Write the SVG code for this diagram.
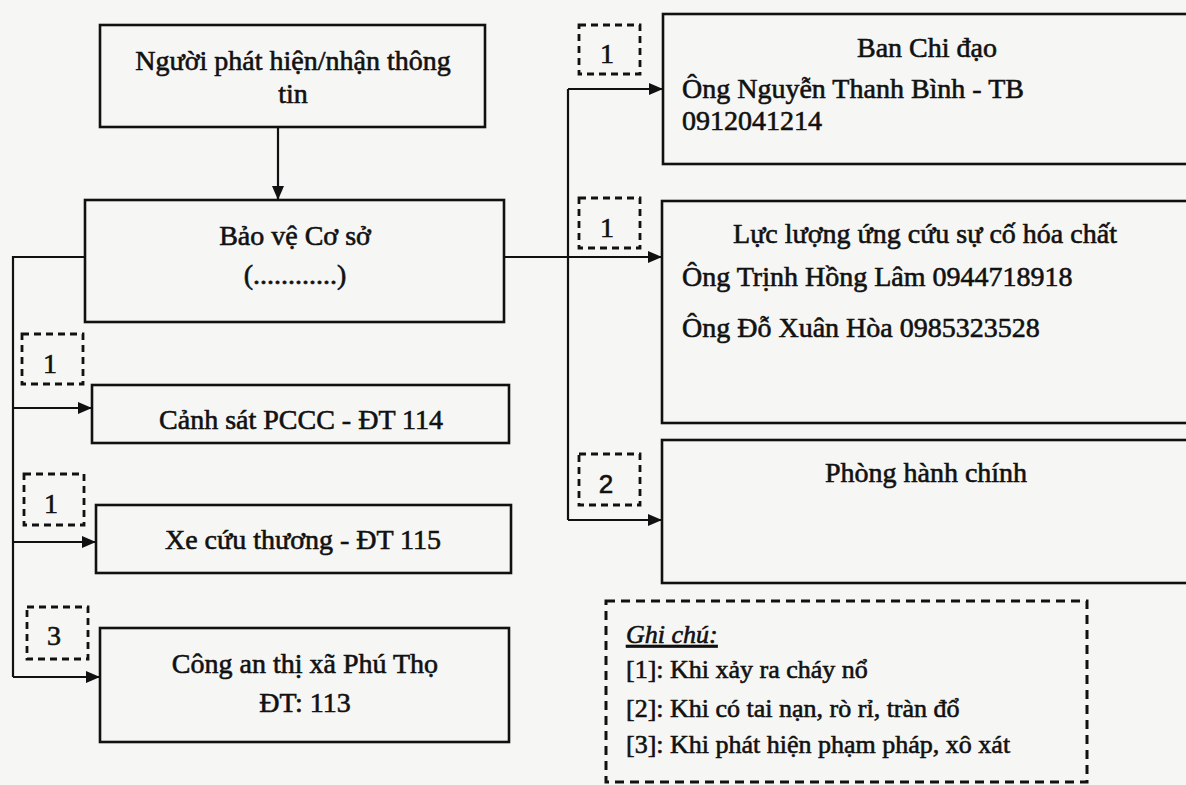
<svg xmlns="http://www.w3.org/2000/svg" width="1186" height="785" viewBox="0 0 1186 785">
  <defs>
    <marker id="arr" viewBox="0 0 14 12" refX="14" refY="6" markerWidth="14" markerHeight="12" markerUnits="userSpaceOnUse" orient="auto">
      <path d="M0,0 L14,6 L0,12 Z" fill="#111"/>
    </marker>
  </defs>
  <style>
    .box { fill: none; stroke: #111; stroke-width: 2.6; }
    .dash { fill: none; stroke: #111; stroke-width: 2.8; stroke-dasharray: 7 5; }
    .legend { fill: none; stroke: #111; stroke-width: 3; stroke-dasharray: 9 6; }
    .conn { fill: none; stroke: #111; stroke-width: 2.2; }
    text { font-family: "Liberation Serif", "Times New Roman", serif; font-size: 28px; fill: #111; stroke: #111; stroke-width: 0.6; }
    .c { text-anchor: middle; }
    .num { font-size: 28px; text-anchor: middle; }
    .lg { font-size: 26px; }
  </style>
  <rect x="0" y="0" width="1186" height="785" fill="#f6f6f4"/>

  <g id="connectors">
    <line class="conn" x1="278" y1="127" x2="278" y2="200" marker-end="url(#arr)"/>
    <polyline class="conn" points="85,257 13,257 13,677"/>
    <line class="conn" x1="13" y1="408" x2="92" y2="408" marker-end="url(#arr)"/>
    <line class="conn" x1="13" y1="542" x2="96" y2="542" marker-end="url(#arr)"/>
    <line class="conn" x1="13" y1="677" x2="100" y2="677" marker-end="url(#arr)"/>
    <line class="conn" x1="505" y1="257" x2="662" y2="257" marker-end="url(#arr)"/>
    <line class="conn" x1="568" y1="89" x2="568" y2="520"/>
    <line class="conn" x1="568" y1="89" x2="663" y2="89" marker-end="url(#arr)"/>
    <line class="conn" x1="568" y1="520" x2="662" y2="520" marker-end="url(#arr)"/>
  </g>

  <g id="node-nguoi-phat-hien">
    <rect class="box" x="100" y="25" width="385" height="102"/>
    <text class="c" x="293" y="70">Người phát hiện/nhận thông</text>
    <text class="c" x="293" y="103">tin</text>
  </g>

  <g id="node-bao-ve">
    <rect class="box" x="85" y="200" width="419" height="122"/>
    <text class="c" x="295" y="245">Bảo vệ Cơ sở</text>
    <text class="c" x="295" y="284">(............)</text>
  </g>

  <g id="node-canh-sat">
    <rect class="box" x="92" y="385" width="417" height="58"/>
    <text class="c" x="301" y="429">Cảnh sát PCCC - ĐT 114</text>
  </g>

  <g id="node-xe-cuu-thuong">
    <rect class="box" x="96" y="505" width="415" height="68"/>
    <text class="c" x="303" y="549">Xe cứu thương - ĐT 115</text>
  </g>

  <g id="node-cong-an">
    <rect class="box" x="100" y="628" width="409" height="114"/>
    <text class="c" x="305" y="673">Công an thị xã Phú Thọ</text>
    <text class="c" x="305" y="712">ĐT: 113</text>
  </g>

  <g id="node-ban-chi-dao">
    <rect class="box" x="663" y="14" width="540" height="150"/>
    <text class="c" x="927" y="57">Ban Chi đạo</text>
    <text x="682" y="98">Ông Nguyễn Thanh Bình - TB</text>
    <text x="682" y="130">0912041214</text>
  </g>

  <g id="node-luc-luong">
    <rect class="box" x="662" y="201" width="540" height="222"/>
    <text class="c" x="925" y="243">Lực lượng ứng cứu sự cố hóa chất</text>
    <text x="682" y="286">Ông Trịnh Hồng Lâm 0944718918</text>
    <text x="682" y="337">Ông Đỗ Xuân Hòa 0985323528</text>
  </g>

  <g id="node-phong-hanh-chinh">
    <rect class="box" x="662" y="440" width="540" height="143"/>
    <text class="c" x="926" y="482">Phòng hành chính</text>
  </g>

  <g id="tag-bcd">
    <rect class="dash" x="579" y="25" width="61" height="49"/>
    <text class="num" x="607" y="63">1</text>
  </g>
  <g id="tag-ll">
    <rect class="dash" x="579" y="198" width="61" height="50"/>
    <text class="num" x="607" y="237">1</text>
  </g>
  <g id="tag-phc">
    <rect class="dash" x="579" y="454" width="61" height="51"/>
    <text class="num" x="606" y="493" style="font-family:'Liberation Sans',Arial,sans-serif;font-size:26px">2</text>
  </g>
  <g id="tag-cs">
    <rect class="dash" x="22" y="334" width="61" height="50"/>
    <text class="num" x="50" y="373">1</text>
  </g>
  <g id="tag-xe">
    <rect class="dash" x="24" y="474" width="60" height="51"/>
    <text class="num" x="51" y="513">1</text>
  </g>
  <g id="tag-ca">
    <rect class="dash" x="27" y="607" width="61" height="52"/>
    <text class="num" x="54" y="645">3</text>
  </g>

  <g id="legend">
    <rect class="legend" x="606" y="601" width="481" height="181"/>
    <text class="lg" x="626" y="643" font-style="italic" text-decoration="underline">Ghi chú:</text>
    <text class="lg" x="626" y="678">[1]: Khi xảy ra cháy nổ</text>
    <text class="lg" x="626" y="717">[2]: Khi có tai nạn, rò rỉ, tràn đổ</text>
    <text class="lg" x="626" y="753">[3]: Khi phát hiện phạm pháp, xô xát</text>
  </g>
</svg>
